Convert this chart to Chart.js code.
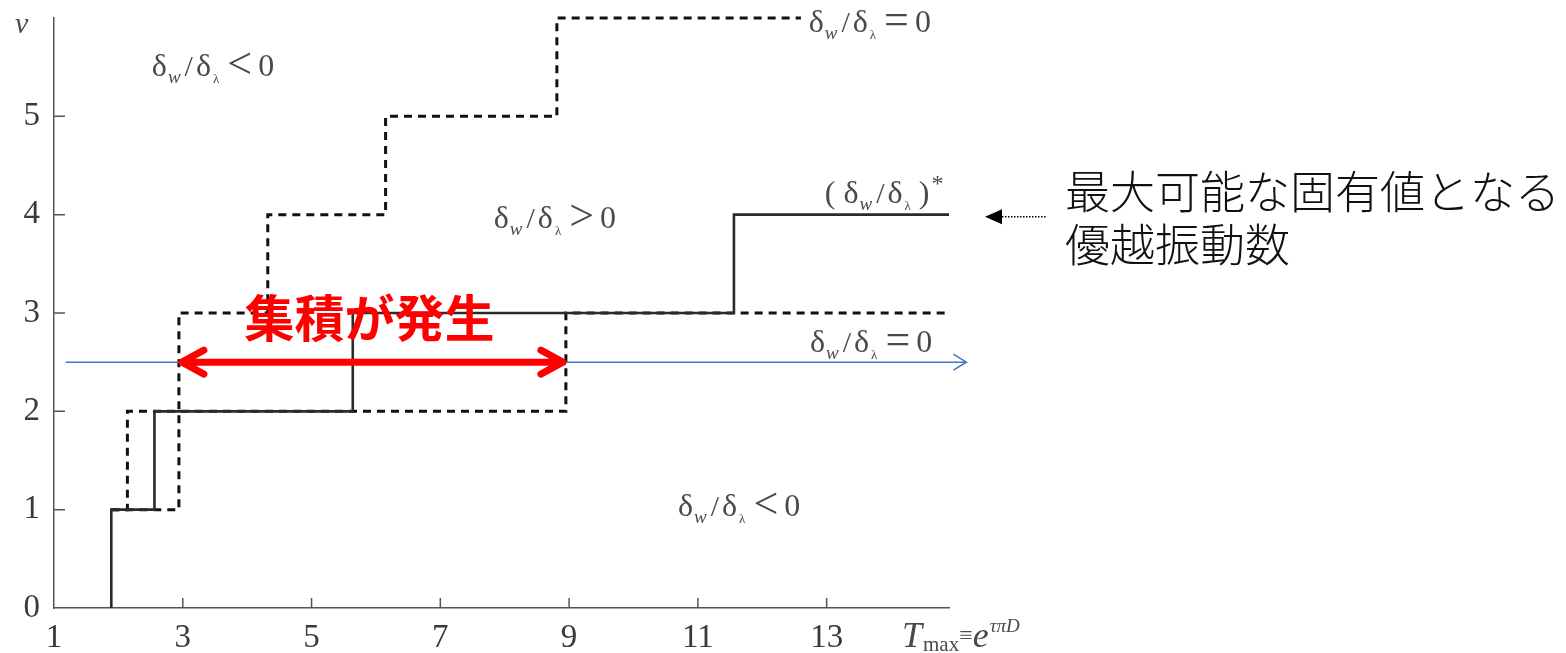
<!DOCTYPE html>
<html>
<head>
<meta charset="utf-8">
<script src="https://cdn.jsdelivr.net/npm/chart.js@4"></script>
<style>
  html, body { margin: 0; padding: 0; background: #fff; }
  #wrap { width: 1566px; height: 653px; }
</style>
</head>
<body>
<div id="wrap"><canvas id="chart"></canvas></div>
<script>
// ticks
const xTicks = [1, 3, 5, 7, 9, 11, 13];
const yTicks = [0, 1, 2, 3, 4, 5];

// (δw/δλ)* : the dominant frequency, steps up at these T values
const starSteps = [1.89, 2.56, 5.64, 11.56];
const starLevels = [1, 2, 3, 4];
const starEnd = 14.9;

// upper δw/δλ = 0 boundary
const upperSteps = [1.89, 2.14, 2.94, 4.32, 6.15, 8.81];
const upperLevels = [1, 2, 3, 4, 5, 6];
const upperEnd = 12.6;

// lower δw/δλ = 0 boundary
const lowerSteps = [1.89, 2.94, 8.95];
const lowerLevels = [1, 2, 3];
const lowerEnd = 14.9;

// agglomeration range and the ν line it sits on
const accumRange = [2.94, 8.95];
const bandNu = 2.5;
const bandLine = [1.18, 15.17];

// corner points for a stepped line; the boundaries start at ν = 1,
// the solid curve rises from the axis
function stepPoints(steps, levels, end, fromAxis) {
  const pts = fromAxis ? [{ x: steps[0], y: 0 }] : [];
  steps.forEach((x, i) => pts.push({ x: x, y: levels[i] }));
  pts.push({ x: end, y: levels[levels.length - 1] });
  return pts;
}

const SERIF = '"Liberation Serif", "Times New Roman", serif';
const CJK = '"Noto Sans CJK JP", sans-serif';

function richText(ctx, x, y, parts) {
  let cx = x;
  parts.forEach(p => {
    ctx.font = (p.italic ? 'italic ' : '') + p.size + 'px ' + SERIF;
    cx += p.gap || 0;
    ctx.fillText(p.t, cx, y + (p.dy || 0));
    cx += ctx.measureText(p.t).width;
  });
}

function ratioParts(op, rhs) {
  return [
    { t: 'δ', size: 32 },
    { t: 'w', size: 19, italic: true, dy: 7, gap: 1 },
    { t: '/', size: 30, gap: 4 },
    { t: 'δ', size: 32, gap: 3 },
    { t: 'λ', size: 13, dy: 7, gap: 2 },
    { t: op, size: 44, dy: 2, gap: 8 },
    { t: rhs, size: 32, gap: 6 }
  ];
}

const overlay = {
  id: 'overlay',
  afterDraw(chart) {
    const ctx = chart.ctx;
    const xs = chart.scales.x, ys = chart.scales.y;
    const area = chart.chartArea;
    ctx.save();

    // inward tick marks
    ctx.strokeStyle = '#555';
    ctx.lineWidth = 1.5;
    ctx.beginPath();
    xTicks.slice(1).forEach(v => {
      const px = xs.getPixelForValue(v);
      ctx.moveTo(px, area.bottom);
      ctx.lineTo(px, area.bottom - 10);
    });
    yTicks.slice(1).forEach(v => {
      const py = ys.getPixelForValue(v);
      ctx.moveTo(area.left, py);
      ctx.lineTo(area.left + 11, py);
    });
    ctx.stroke();

    // region labels
    ctx.fillStyle = '#4a4a4a';
    ctx.textAlign = 'left';
    ctx.textBaseline = 'alphabetic';
    const lab = (x, y, parts) => richText(ctx, xs.getPixelForValue(x), ys.getPixelForValue(y), parts);
    lab(2.52, 5.41, ratioParts('<', '0'));
    lab(12.72, 5.86, ratioParts('=', '0'));
    lab(7.83, 3.86, ratioParts('>', '0'));
    lab(12.74, 2.6, ratioParts('=', '0'));
    lab(10.69, 0.94, ratioParts('<', '0'));
    lab(12.97, 4.12, [
      { t: '(', size: 32 },
      { t: 'δ', size: 32, gap: 8 },
      { t: 'w', size: 19, italic: true, dy: 7, gap: 1 },
      { t: '/', size: 30, gap: 4 },
      { t: 'δ', size: 32, gap: 3 },
      { t: 'λ', size: 13, dy: 7, gap: 2 },
      { t: ')', size: 32, gap: 8 },
      { t: '*', size: 24, dy: -12, gap: 2 }
    ]);

    // axis titles
    richText(ctx, 15, 33, [{ t: 'ν', size: 30, italic: true }]);
    richText(ctx, 902, 647, [
      { t: 'T', size: 36, italic: true },
      { t: 'max', size: 21, dy: 4, gap: 1 },
      { t: '≡', size: 24, dy: -4 },
      { t: 'e', size: 36, italic: true },
      { t: 'τπD', size: 19, italic: true, dy: -15, gap: 1 }
    ]);

    // blue ν line with open arrowhead
    const yb = ys.getPixelForValue(bandNu);
    const bx0 = xs.getPixelForValue(bandLine[0]);
    const bx1 = xs.getPixelForValue(bandLine[1]);
    ctx.strokeStyle = '#4472c4';
    ctx.lineWidth = 1.5;
    ctx.beginPath();
    ctx.moveTo(bx0, yb);
    ctx.lineTo(bx1, yb);
    ctx.moveTo(bx1 - 13, yb - 8);
    ctx.lineTo(bx1, yb);
    ctx.lineTo(bx1 - 13, yb + 8);
    ctx.stroke();

    // red double arrow over the agglomeration range
    const rx0 = xs.getPixelForValue(accumRange[0]);
    const rx1 = xs.getPixelForValue(accumRange[1]);
    ctx.strokeStyle = '#ff0000';
    ctx.lineWidth = 7;
    ctx.lineCap = 'round';
    ctx.lineJoin = 'round';
    ctx.beginPath();
    ctx.moveTo(rx0 + 3, yb);
    ctx.lineTo(rx1 - 3, yb);
    ctx.moveTo(rx0 + 25, yb - 12);
    ctx.lineTo(rx0 + 3, yb);
    ctx.lineTo(rx0 + 25, yb + 12);
    ctx.moveTo(rx1 - 25, yb - 12);
    ctx.lineTo(rx1 - 3, yb);
    ctx.lineTo(rx1 - 25, yb + 12);
    ctx.stroke();

    ctx.fillStyle = '#ff0000';
    ctx.font = 'bold 50px ' + CJK;
    ctx.textAlign = 'center';
    ctx.textBaseline = 'middle';
    ctx.fillText('集積が発生', xs.getPixelForValue(5.9), ys.getPixelForValue(2.95));

    // side note pointing at ν = 4
    const ya = ys.getPixelForValue(4) + 2;
    ctx.fillStyle = '#000';
    ctx.beginPath();
    ctx.moveTo(985, ya);
    ctx.lineTo(1002, ya - 7.5);
    ctx.lineTo(1002, ya + 7.5);
    ctx.closePath();
    ctx.fill();
    ctx.strokeStyle = '#000';
    ctx.lineWidth = 1.5;
    ctx.lineCap = 'butt';
    ctx.setLineDash([1.5, 1.5]);
    ctx.beginPath();
    ctx.moveTo(1002, ya);
    ctx.lineTo(1047, ya);
    ctx.stroke();
    ctx.setLineDash([]);

    ctx.font = '300 45px ' + CJK;
    ctx.textAlign = 'left';
    ctx.textBaseline = 'middle';
    ctx.fillStyle = '#111';
    ctx.fillText('最大可能な固有値となる', 1065, 192);
    ctx.fillText('優越振動数', 1065, 245);

    ctx.restore();
  }
};

function noPadFit(size) {
  return function (scale) {
    if (scale.isHorizontal()) scale.height = size; else scale.width = size;
    scale.paddingTop = 0;
    scale.paddingBottom = 0;
    scale.paddingLeft = 0;
    scale.paddingRight = 0;
  };
}

new Chart(document.getElementById('chart'), {
  type: 'line',
  data: {
    datasets: [{
      label: '(δw/δλ)*',
      data: stepPoints(starSteps, starLevels, starEnd, true),
      borderColor: '#2b2b2b',
      borderWidth: 2.6,
      stepped: 'before',
      pointRadius: 0,
      clip: false
    }, {
      label: 'upper δw/δλ=0',
      data: stepPoints(upperSteps, upperLevels, upperEnd, false),
      borderColor: '#111',
      borderWidth: 3,
      borderDash: [8, 6],
      stepped: 'before',
      pointRadius: 0,
      clip: false
    }, {
      label: 'lower δw/δλ=0',
      data: stepPoints(lowerSteps, lowerLevels, lowerEnd, false),
      borderColor: '#111',
      borderWidth: 3,
      borderDash: [8, 6],
      stepped: 'before',
      pointRadius: 0,
      clip: false
    }]
  },
  options: {
    responsive: true,
    maintainAspectRatio: false,
    animation: false,
    layout: { padding: { left: 0, top: 18, right: 617, bottom: 0 } },
    plugins: {
      legend: { display: false },
      tooltip: { enabled: false }
    },
    scales: {
      x: {
        type: 'linear',
        min: 1,
        max: 14.9,
        grid: { display: false, drawTicks: false },
        border: { display: true, color: '#555', width: 1.5 },
        ticks: {
          autoSkip: false,
          maxRotation: 0,
          padding: 11,
          color: '#3a3a3a',
          font: { family: SERIF, size: 33 }
        },
        afterBuildTicks: s => { s.ticks = xTicks.map(v => ({ value: v })); },
        afterFit: noPadFit(45)
      },
      y: {
        type: 'linear',
        min: 0,
        max: 6,
        grid: { display: false, drawTicks: false },
        border: { display: true, color: '#555', width: 1.5 },
        ticks: {
          autoSkip: false,
          padding: 14,
          color: '#3a3a3a',
          font: { family: SERIF, size: 33 }
        },
        afterBuildTicks: s => { s.ticks = yTicks.map(v => ({ value: v })); },
        afterFit: noPadFit(54)
      }
    }
  },
  plugins: [overlay]
});
</script>
</body>
</html>
